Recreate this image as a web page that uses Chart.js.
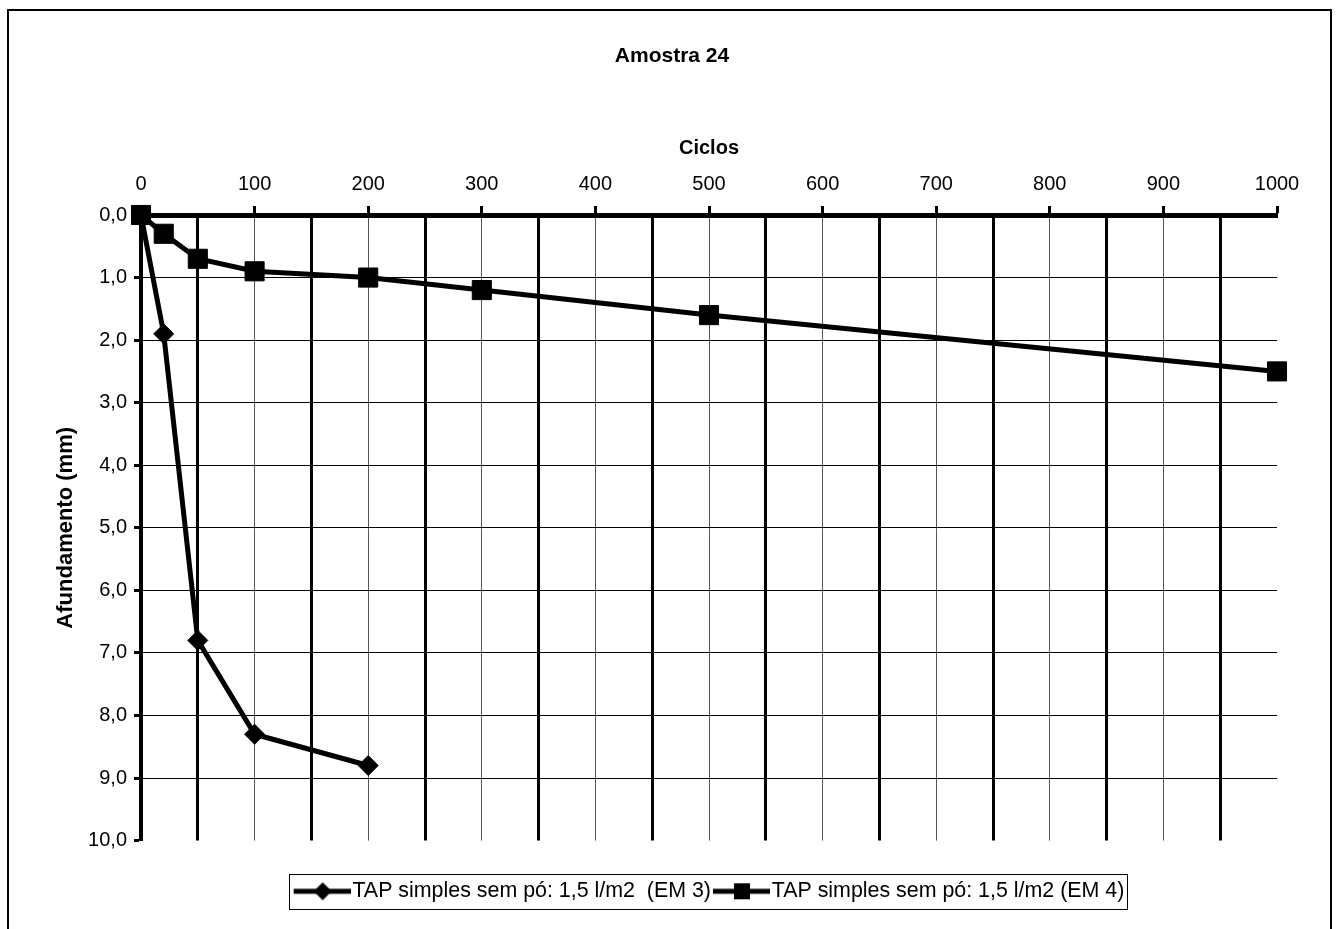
<!DOCTYPE html>
<html>
<head>
<meta charset="utf-8">
<script src="https://cdn.jsdelivr.net/npm/chart.js@4.4.1/dist/chart.umd.min.js"></script>
<style>
html,body{margin:0;padding:0;background:#fff;overflow:hidden}
canvas{display:block}
</style>
</head>
<body>
<canvas id="c" width="1338" height="929"></canvas>
<script>
// ---- data ----
const chartTitle = 'Amostra 24';
const xAxisTitle = 'Ciclos';
const yAxisTitle = 'Afundamento (mm)';
const seriesNames = ['TAP simples sem pó: 1,5 l/m2  (EM 3)', 'TAP simples sem pó: 1,5 l/m2 (EM 4)'];
const cyclesEM3 = [0, 20, 50, 100, 200];
const sinkEM3 = [0, 1.9, 6.8, 8.3, 8.8];
const cyclesEM4 = [0, 20, 50, 100, 200, 300, 500, 1000];
const sinkEM4 = [0, 0.3, 0.7, 0.9, 1.0, 1.2, 1.6, 2.5];
const xTickLabels = ['0', '100', '200', '300', '400', '500', '600', '700', '800', '900', '1000'];
const yTickLabels = ['0,0', '1,0', '2,0', '3,0', '4,0', '5,0', '6,0', '7,0', '8,0', '9,0', '10,0'];

const FONT = "'Liberation Sans', Arial, Helvetica, sans-serif";
Chart.defaults.font.family = FONT;
Chart.defaults.color = '#000';
const CLEAR = 'rgba(0,0,0,0)';

function makeIcon(kind) {
  const c = document.createElement('canvas');
  c.width = 66; c.height = 24;
  const g = c.getContext('2d');
  g.strokeStyle = '#000'; g.fillStyle = '#000';
  g.lineWidth = 5;
  g.beginPath(); g.moveTo(9, 12); g.lineTo(66, 12); g.stroke();
  const cx = 9 + 29, cy = 12;
  g.beginPath();
  if (kind === 'diamond') {
    g.moveTo(cx - 9, cy); g.lineTo(cx, cy - 9); g.lineTo(cx + 9, cy); g.lineTo(cx, cy + 9); g.closePath();
  } else {
    g.rect(cx - 8, cy - 8, 16, 16);
  }
  g.fill();
  return c;
}
const legendIcons = [makeIcon('diamond'), makeIcon('square')];

const tv = (ctx) => (ctx && ctx.tick) ? ctx.tick.value : -1;

const framePlugin = {
  id: 'frame',
  afterDraw(chart) {
    const ctx = chart.ctx;
    ctx.save();
    ctx.strokeStyle = '#000';
    ctx.lineWidth = 2;
    ctx.strokeRect(8, 10, 1323, 940);
    const hb = chart.legend && chart.legend.legendHitBoxes;
    if (hb && hb.length) {
      const first = hb[0], last = hb[hb.length - 1];
      const l = Math.round(first.left - 5) + 0.5;
      const r = Math.round(last.left + last.width + 3) + 0.5;
      const t = Math.round(first.top - 7) + 0.5;
      const b = Math.round(first.top + 28) + 0.5;
      ctx.lineWidth = 1;
      ctx.strokeRect(l, t, r - l, b - t);
    }
    ctx.restore();
  }
};

new Chart(document.getElementById('c'), {
  type: 'scatter',
  data: {
    datasets: [
      {
        label: seriesNames[0],
        data: cyclesEM3.map((x, i) => ({x: x, y: sinkEM3[i]})),
        showLine: true,
        borderColor: '#000',
        backgroundColor: '#000',
        borderWidth: 5,
        pointStyle: 'rectRot',
        pointRadius: 10,
        pointBorderWidth: 1,
        pointBackgroundColor: '#000',
        pointBorderColor: '#000',
        clip: false
      },
      {
        label: seriesNames[1],
        data: cyclesEM4.map((x, i) => ({x: x, y: sinkEM4[i]})),
        showLine: true,
        borderColor: '#000',
        backgroundColor: '#000',
        borderWidth: 5,
        pointStyle: 'rect',
        pointRadius: 13.5,
        pointBorderWidth: 1,
        pointBackgroundColor: '#000',
        pointBorderColor: '#000',
        clip: false
      }
    ]
  },
  options: {
    responsive: false,
    animation: false,
    events: [],
    layout: {padding: {left: 6, right: 0, top: 0, bottom: 17}},
    scales: {
      x: {
        type: 'linear',
        position: 'top',
        min: 0,
        max: 1000,
        ticks: {
          stepSize: 50,
          autoSkip: false,
          maxRotation: 0,
          padding: 10,
          color: '#000',
          font: {size: 20},
          callback: (v) => (v % 100 === 0 ? xTickLabels[v / 100] : '')
        },
        grid: {
          color: (ctx) => { const v = tv(ctx); if (v <= 0 || v >= 1000) return CLEAR; return v % 100 === 0 ? '#555' : '#000'; },
          lineWidth: (ctx) => (tv(ctx) % 100 === 0 ? 1 : 3),
          drawTicks: true,
          tickLength: 9,
          tickWidth: 3,
          tickColor: (ctx) => (tv(ctx) % 100 === 0 ? '#000' : CLEAR)
        },
        border: {display: true, color: '#000', width: 5},
        title: {display: true, text: xAxisTitle, color: '#000', font: {size: 20, weight: 'bold'}, padding: {top: 67.4, bottom: 0}},
        afterFit: (s) => { s.height = 146.4; s.paddingRight = 61; }
      },
      y: {
        type: 'linear',
        reverse: true,
        min: 0,
        max: 10,
        ticks: {
          stepSize: 1,
          padding: 7,
          color: '#000',
          font: {size: 20},
          callback: (v) => yTickLabels[Math.round(v)]
        },
        grid: {
          color: (ctx) => { const v = tv(ctx); return (v <= 0 || v >= 10) ? CLEAR : '#000'; },
          lineWidth: 1,
          drawTicks: true,
          tickLength: 7,
          tickWidth: 3,
          tickColor: '#000'
        },
        border: {display: true, color: '#000', width: 4},
        title: {display: true, text: yAxisTitle, color: '#000', font: {size: 22, weight: 'bold'}, padding: {top: 46.8, bottom: 0}},
        afterFit: (s) => { s.width = 135; }
      }
    },
    plugins: {
      tooltip: {enabled: false},
      title: {
        display: true,
        text: chartTitle,
        color: '#000',
        font: {size: 21, weight: 'bold'},
        padding: {top: 43.4, bottom: 0}
      },
      legend: {
        display: true,
        position: 'bottom',
        fullSize: false,
        title: {display: true, text: '', font: {size: 10}, padding: {top: 26, bottom: 0}},
        labels: {
          usePointStyle: true,
          pointStyleWidth: 48,
          padding: 2,
          color: '#000',
          font: {size: 21.4},
          generateLabels: (chart) => {
            const items = Chart.defaults.plugins.legend.labels.generateLabels(chart);
            items.forEach((it, i) => { it.pointStyle = legendIcons[i]; it.fontColor = '#000'; it.lineWidth = 0; });
            return items;
          }
        }
      }
    }
  },
  plugins: [framePlugin]
});
</script>
</body>
</html>
